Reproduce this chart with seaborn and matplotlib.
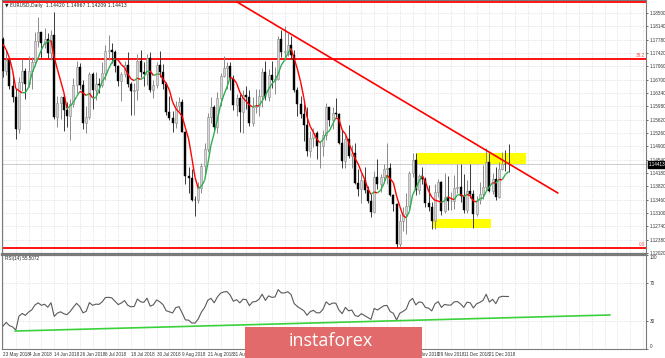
import numpy as np
import pandas as pd
import matplotlib
matplotlib.use("Agg")
import matplotlib.pyplot as plt
import matplotlib.transforms as mtrans
from matplotlib.patches import Rectangle
from matplotlib.collections import LineCollection
import seaborn as sns

sns.set_style("white")
plt.rcParams['font.family'] = ['Liberation Sans Narrow', 'Liberation Sans', 'DejaVu Sans']

# ---------------- data (EURUSD daily, 23 May 2018 - 2 Jan 2019) ----------------
opens = [1.1781,1.1694,1.1722,1.1654,1.1623,1.1537,1.1665,1.1693,1.1659,1.1694,
         1.1718,1.1774,1.1800,1.1768,1.1780,1.1742,1.1792,1.1569,1.1608,1.1624,
         1.1588,1.1571,1.1605,1.1656,1.1703,1.1656,1.1553,1.1569,1.1685,1.1641,
         1.1658,1.1655,1.1687,1.1747,1.1750,1.1744,1.1707,1.1667,1.1685,1.1711,
         1.1658,1.1640,1.1643,1.1720,1.1692,1.1685,1.1729,1.1643,1.1657,1.1710,
         1.1690,1.1659,1.1583,1.1567,1.1552,1.1600,1.1609,1.1528,1.1410,1.1405,
         1.1346,1.1345,1.1377,1.1438,1.1484,1.1570,1.1596,1.1542,1.1621,1.1681,
         1.1702,1.1707,1.1671,1.1601,1.1621,1.1583,1.1628,1.1624,1.1552,1.1596,
         1.1600,1.1626,1.1690,1.1624,1.1684,1.1668,1.1673,1.1779,1.1745,1.1747,
         1.1763,1.1738,1.1641,1.1604,1.1577,1.1548,1.1478,1.1513,1.1525,1.1491,
         1.1491,1.1521,1.1595,1.1562,1.1579,1.1578,1.1500,1.1451,1.1510,1.1464,
         1.1471,1.1392,1.1375,1.1400,1.1371,1.1343,1.1312,1.1408,1.1387,1.1407,
         1.1428,1.1431,1.1359,1.1334,1.1227,1.1289,1.1307,1.1329,1.1417,1.1453,
         1.1372,1.1409,1.1402,1.1337,1.1327,1.1289,1.1366,1.1393,1.1316,1.1352,
         1.1342,1.1343,1.1377,1.1381,1.1355,1.1318,1.1369,1.1362,1.1306,1.1346,
         1.1360,1.1380,1.1448,1.1370,1.1402,1.1353,1.1430,1.1443,1.14420]
highs = [1.1784,1.1751,1.1726,1.1680,1.1646,1.1677,1.1725,1.1701,1.1734,1.1730,
         1.1800,1.1839,1.1800,1.1810,1.1795,1.1803,1.1852,1.1626,1.1625,1.1630,
         1.1610,1.1619,1.1675,1.1720,1.1715,1.1670,1.1600,1.1692,1.1690,1.1690,
         1.1675,1.1719,1.1764,1.1791,1.1769,1.1749,1.1709,1.1690,1.1720,1.1746,
         1.1663,1.1662,1.1739,1.1749,1.1717,1.1740,1.1744,1.1670,1.1718,1.1747,
         1.1713,1.1664,1.1625,1.1586,1.1612,1.1622,1.1618,1.1532,1.1433,1.1430,
         1.1357,1.1394,1.1446,1.1498,1.1580,1.1623,1.1601,1.1638,1.1688,1.1733,
         1.1717,1.1719,1.1682,1.1631,1.1631,1.1643,1.1654,1.1642,1.1622,1.1646,
         1.1646,1.1701,1.1721,1.1699,1.1720,1.1704,1.1788,1.1803,1.1815,1.1797,
         1.1789,1.1751,1.1649,1.1626,1.1605,1.1595,1.1531,1.1539,1.1532,1.1505,
         1.1533,1.1608,1.1597,1.1595,1.1621,1.1580,1.1535,1.1520,1.1547,1.1494,
         1.1500,1.1429,1.1414,1.1433,1.1384,1.1361,1.1423,1.1456,1.1416,1.1441,
         1.1500,1.1445,1.1362,1.1336,1.1307,1.1325,1.1363,1.1423,1.1471,1.1472,
         1.1415,1.1433,1.1408,1.1385,1.1340,1.1388,1.1402,1.1396,1.1419,1.1409,
         1.1367,1.1412,1.1443,1.1441,1.1414,1.1398,1.1441,1.1372,1.1355,1.1394,
         1.1440,1.1486,1.1472,1.1419,1.1434,1.1449,1.1475,1.1479,1.14967]
lows = [1.1676,1.1682,1.1645,1.1610,1.1510,1.1525,1.1639,1.1617,1.1651,1.1645,
        1.1707,1.1757,1.1728,1.1756,1.1729,1.1724,1.1563,1.1541,1.1563,1.1532,
        1.1542,1.1508,1.1597,1.1633,1.1645,1.1538,1.1527,1.1565,1.1591,1.1616,
        1.1634,1.1650,1.1670,1.1723,1.1715,1.1692,1.1652,1.1613,1.1677,1.1650,
        1.1575,1.1575,1.1615,1.1678,1.1653,1.1657,1.1637,1.1621,1.1647,1.1678,
        1.1645,1.1576,1.1561,1.1529,1.1540,1.1586,1.1528,1.1388,1.1365,1.1343,
        1.1301,1.1338,1.1364,1.1416,1.1475,1.1554,1.1529,1.1526,1.1600,1.1677,
        1.1646,1.1642,1.1588,1.1571,1.1530,1.1527,1.1592,1.1546,1.1545,1.1580,
        1.1571,1.1596,1.1616,1.1613,1.1648,1.1632,1.1670,1.1730,1.1723,1.1733,
        1.1725,1.1636,1.1571,1.1567,1.1505,1.1463,1.1462,1.1487,1.1457,1.1432,
        1.1465,1.1508,1.1545,1.1537,1.1568,1.1495,1.1432,1.1432,1.1458,1.1432,
        1.1388,1.1357,1.1336,1.1364,1.1338,1.1300,1.1311,1.1375,1.1366,1.1392,
        1.1387,1.1356,1.1315,1.1216,1.1218,1.1262,1.1254,1.1317,1.1406,1.1358,
        1.1361,1.1389,1.1325,1.1315,1.1267,1.1268,1.1352,1.1304,1.1310,1.1318,
        1.1319,1.1320,1.1363,1.1340,1.1311,1.1310,1.1350,1.1269,1.1301,1.1335,
        1.1348,1.1375,1.1367,1.1360,1.1345,1.1350,1.1425,1.1424,1.14209]
closes = [1.1694,1.1722,1.1654,1.1623,1.1537,1.1665,1.1693,1.1659,1.1694,1.1718,
          1.1774,1.1800,1.1768,1.1780,1.1742,1.1792,1.1569,1.1608,1.1624,1.1588,
          1.1571,1.1605,1.1656,1.1703,1.1656,1.1553,1.1569,1.1685,1.1641,1.1658,
          1.1655,1.1687,1.1747,1.1750,1.1744,1.1707,1.1667,1.1685,1.1711,1.1658,
          1.1640,1.1643,1.1720,1.1692,1.1685,1.1729,1.1643,1.1657,1.1710,1.1690,
          1.1659,1.1583,1.1567,1.1552,1.1600,1.1609,1.1528,1.1410,1.1405,1.1346,
          1.1345,1.1377,1.1438,1.1484,1.1570,1.1596,1.1542,1.1621,1.1681,1.1702,
          1.1707,1.1671,1.1601,1.1621,1.1583,1.1628,1.1624,1.1552,1.1596,1.1600,
          1.1626,1.1690,1.1624,1.1684,1.1668,1.1673,1.1779,1.1745,1.1747,1.1763,
          1.1738,1.1641,1.1604,1.1577,1.1548,1.1478,1.1513,1.1525,1.1491,1.1491,
          1.1521,1.1595,1.1562,1.1579,1.1578,1.1500,1.1451,1.1510,1.1464,1.1471,
          1.1392,1.1375,1.1400,1.1371,1.1343,1.1312,1.1408,1.1387,1.1407,1.1428,
          1.1431,1.1359,1.1334,1.1227,1.1289,1.1307,1.1329,1.1417,1.1453,1.1372,
          1.1409,1.1402,1.1337,1.1327,1.1289,1.1366,1.1393,1.1316,1.1352,1.1342,
          1.1343,1.1377,1.1381,1.1355,1.1318,1.1369,1.1362,1.1306,1.1346,1.1360,
          1.1380,1.1448,1.1370,1.1402,1.1353,1.1430,1.1443,1.1442,1.14413]
# closes before the first visible bar (only used to warm up the indicators)
warmup_closes = [1.2276,1.2238,1.2282,1.2318,1.2356,1.2368,1.2327,1.2330,1.2379,
                 1.2373,1.2374,1.2345,1.2288,1.2210,1.2234,1.2233,1.2104,1.2130,
                 1.2079,1.1992,1.1951,1.1988,1.1960,1.1922,1.1867,1.1850,1.1917,
                 1.1941,1.1926,1.1838,1.1810,1.1794,1.1767,1.1792,1.1781]

date_labels = ["23 May 2018", "4 Jun 2018", "14 Jun 2018", "26 Jun 2018", "6 Jul 2018",
               "18 Jul 2018", "30 Jul 2018", "9 Aug 2018", "21 Aug 2018", "31 Aug 2018",
               "12 Sep 2018", "24 Sep 2018", "4 Oct 2018", "16 Oct 2018", "26 Oct 2018",
               "7 Nov 2018", "19 Nov 2018", "29 Nov 2018", "11 Dec 2018", "21 Dec 2018"]
label_bars = [0, 8, 16, 24, 32, 40, 48, 56, 64, 72, 80, 88, 96, 104, 112, 120, 128, 136, 144, 152]
price_ticks = [1.12020, 1.12380, 1.12740, 1.13100, 1.13460, 1.13820, 1.14180, 1.14540,
               1.14900, 1.15260, 1.15620, 1.15980, 1.16340, 1.16700, 1.17060, 1.17420,
               1.17780, 1.18140, 1.18500]
rsi_ticks = [0, 30, 70, 100]
fib_levels = [1.1216, 1.1727, 1.1880]
fib_names = ["0.0", "38.2", "50.0"]
trend_bars = [73.1, 173.4]
trend_prices = [1.1880, 1.1364]
rsi_trend_bars = [3.75, 189.7]
rsi_trend_vals = [19.1, 36.2]
zone_upper = [129.4, 163.4, 1.14423, 1.14720]
zone_lower = [134.4, 152.5, 1.12695, 1.12938]
last_price = 1.14413
title_text = "\u25bc EURUSD,Daily  1.14420 1.14967 1.14209 1.14413"
rsi_text = "RSI(14) 55.5072"

# ---------------- indicators ----------------
n = len(closes)
x = np.arange(n)
all_c = np.array(warmup_closes + closes)
d = np.diff(all_c)
g = np.clip(d, 0, None)
l = np.clip(-d, 0, None)
ag, al = g[:14].mean(), l[:14].mean()
rsi_all = [np.nan] * 15
for i in range(14, len(d)):
    ag = (ag * 13 + g[i]) / 14
    al = (al * 13 + l[i]) / 14
    rsi_all.append(100 - 100 / (1 + ag / al))
rsi = np.array(rsi_all)[-n:]
ma = pd.Series(all_c).rolling(5).mean().values[-n:]

# ---------------- figure ----------------
W, H = 665, 358
SMALL = 3.3
fig = plt.figure(figsize=(W / 100, H / 100), dpi=100)
ax = fig.add_axes([2 / W, (H - 254) / H, 644 / W, 254 / H])
axr = fig.add_axes([2 / W, (H - 349) / H, 644 / W, 94 / H])

xlim = (-0.31, 200.94)
for a in (ax, axr):
    a.set_xlim(*xlim)
    a.set_facecolor("white")
    for s in a.spines.values():
        s.set_color("#7a7a7a")
        s.set_linewidth(0.8)
    a.yaxis.tick_right()
    a.tick_params(axis="y", length=1.5, width=0.5, labelsize=SMALL, pad=1, colors="#333333")
    for gx in np.arange(0, 201, 4):
        a.axvline(gx, color="#d2d2d2", lw=0.5, ls=(0, (1, 1.5)), zorder=0)
ax.spines["bottom"].set_linewidth(1.6)
axr.spines["top"].set_linewidth(1.6)

ax.set_ylim(1.11993, 1.18852)
ax.set_yticks(price_ticks)
ax.set_yticklabels([f"{v:.5f}" for v in price_ticks])
ax.set_xticks([])
for v in price_ticks:
    ax.axhline(v, color="#d2d2d2", lw=0.5, ls=(0, (1, 1.5)), zorder=0)

# zones
for z in (zone_upper, zone_lower):
    ax.add_patch(Rectangle((z[0], z[2]), z[1] - z[0], z[3] - z[2],
                           facecolor="#ffff00", edgecolor="none", zorder=1))

# fibonacci lines
for lv, nm in zip(fib_levels, fib_names):
    ax.axhline(lv, color="#ff0000", lw=1.3, zorder=2)
    if nm != "50.0":
        ax.text(200.6, lv + 0.0002, nm, color="#ff5050", fontsize=SMALL,
                ha="right", va="bottom", zorder=6)

# current price line
ax.axhline(last_price, color="#cccccc", lw=0.7, zorder=1.5)

# candles
o = np.array(opens); h = np.array(highs); lo = np.array(lows); c = np.array(closes)
up = c >= o
ax.vlines(x[up], lo[up], h[up], color="#8a8a8a", lw=0.7, zorder=3)
ax.vlines(x[~up], lo[~up], h[~up], color="#3a3a3a", lw=0.7, zorder=3)
ax.bar(x[up], np.maximum(c[up] - o[up], 0.00004), bottom=o[up], width=0.62,
       color="#d4d4d4", edgecolor="#8a8a8a", linewidth=0.4, zorder=3.5)
ax.bar(x[~up], np.maximum(o[~up] - c[~up], 0.00004), bottom=c[~up], width=0.62,
       color="#000000", edgecolor="#000000", linewidth=0.3, zorder=3.5)

# two-colour moving average
segs = [[(x[i], ma[i]), (x[i + 1], ma[i + 1])] for i in range(n - 1)]
cols = ["#2eae4f" if ma[i + 1] >= ma[i] else "#ff0000" for i in range(n - 1)]
ax.add_collection(LineCollection(segs, colors=cols, linewidths=1.0, zorder=4))

# descending trend line
sns.lineplot(x=trend_bars, y=trend_prices, ax=ax, color="#ff0000", lw=1.2, zorder=5)

ax.text(0.004, 0.99, title_text, transform=ax.transAxes, fontsize=SMALL,
        ha="left", va="top", color="#222222", zorder=7,
        family=["Liberation Sans Narrow", "DejaVu Sans"])

# price box
trans = mtrans.blended_transform_factory(ax.transAxes, ax.transData)
ax.text(1.004, last_price, f"{last_price:.5f}", transform=trans, fontsize=SMALL,
        color="white", ha="left", va="center",
        bbox=dict(boxstyle="square,pad=0.2", fc="black", ec="black"), zorder=8,
        clip_on=False)

# ---------------- RSI panel ----------------
axr.set_ylim(0, 100)
axr.set_yticks(rsi_ticks)
axr.set_yticklabels([str(t) for t in rsi_ticks])
for lbl, t in zip(axr.get_yticklabels(), rsi_ticks):
    if t == 100:
        lbl.set_va("top")
    elif t == 0:
        lbl.set_va("bottom")
for v in (30, 70):
    axr.axhline(v, color="#d2d2d2", lw=0.5, ls=(0, (1, 1.5)), zorder=0)
sns.lineplot(x=x, y=rsi, ax=axr, color="#5a5a5a", lw=0.8, zorder=3)
sns.lineplot(x=rsi_trend_bars, y=rsi_trend_vals, ax=axr, color="#3ad23a", lw=1.2, zorder=4)
axr.set_xticks(label_bars)
axr.set_xticklabels(date_labels, ha="left")
axr.tick_params(axis="x", length=1.5, width=0.5, labelsize=SMALL, pad=1, colors="#333333")
axr.set_xlabel(""); axr.set_ylabel("")
ax.set_xlabel(""); ax.set_ylabel("")
axr.text(0.004, 0.985, rsi_text, transform=axr.transAxes, fontsize=SMALL,
         ha="left", va="top", color="#222222")

# ---------------- watermark logo ----------------
fig.add_artist(Rectangle((245 / W, 0), (422 - 245) / W, (H - 327) / H,
                         transform=fig.transFigure, facecolor="#e26a6a",
                         edgecolor="none", zorder=20))
fig.text(289 / W, (H - 341) / H, "instaforex", color="white", fontsize=13,
         ha="left", va="center", zorder=21, family=["Open Sans", "DejaVu Sans"])

fig.savefig("out.png", dpi=100)
